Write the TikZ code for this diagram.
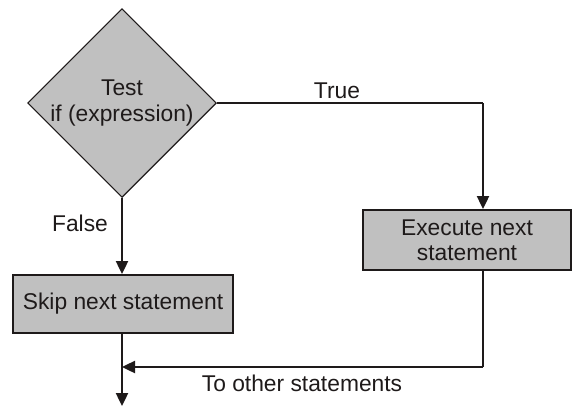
\documentclass[tikz,border=0pt]{standalone}
\usepackage{fontspec}
\setmainfont{Liberation Sans}
\usetikzlibrary{shapes.geometric,arrows.meta}
\definecolor{boxgray}{RGB}{192,192,192}
\definecolor{ink}{RGB}{30,26,26}
\begin{document}
\begin{tikzpicture}[x=0.5pt,y=-0.5pt,
  font=\fontsize{11.4pt}{12.6pt}\selectfont, text=ink,
  decision/.style={diamond, draw=ink, line width=0.6pt, fill=boxgray,
    minimum width=93.5pt, minimum height=93pt, inner sep=0pt, align=center},
  stepbox/.style={rectangle, draw=ink, line width=1pt, fill=boxgray,
    inner sep=0pt, align=center},
  flow/.style={draw=ink, line width=1.2pt, -{Triangle[length=6.5pt,width=6pt]}},
  plain/.style={draw=ink, line width=1.2pt}]
  \useasboundingbox (0,0) rectangle (573,407);

  % shapes
  \node[decision] (test) at (122,103) {Test\\if (expression)};
  \node[stepbox, minimum width=104pt, minimum height=30pt] (exec) at (467,240)
    {Execute next\\statement};
  \node[stepbox, minimum width=110pt, minimum height=29pt] (skip) at (123,304)
    {Skip next statement};

  % routing points
  \coordinate (tcorner) at (483,103);
  \coordinate (rcorner) at (483,367);
  \coordinate (join) at (122,367);
  \coordinate (out) at (122,406);

  % connectors
  \draw[plain] (test.east) -- (tcorner);
  \draw[flow] (tcorner) -- (tcorner |- exec.north);
  \draw[flow] (test.south) -- (test.south |- skip.north);
  \draw[flow] (skip.south -| join) -- (out);
  \draw[plain] (rcorner |- exec.south) -- (rcorner);
  \draw[flow] (rcorner) -- (join);

  % labels
  \node (ltrue) at (337,91) {True};
  \node (lfalse) at (80,223) {False};
  \node (lother) at (302,383) {To other statements};
\end{tikzpicture}
\end{document}
